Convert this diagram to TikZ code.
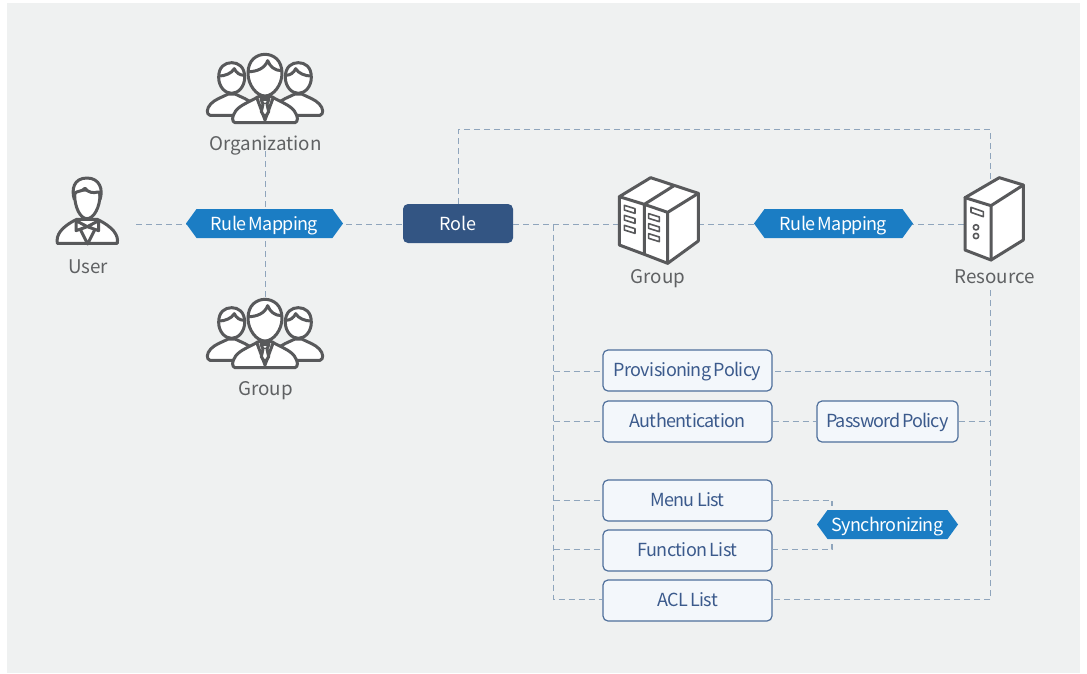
\documentclass[tikz,border=0pt]{standalone}
\usepackage{fontspec}
\setmainfont{Noto Sans CJK KR}
\newfontfamily\tightfont[LetterSpace=-3.6,WordSpace=0.7]{Noto Sans CJK KR}
\newfontfamily\tighterfont[LetterSpace=-5,WordSpace=0.6]{Noto Sans CJK KR}
\usetikzlibrary{shapes.symbols}
\definecolor{bgc}{HTML}{EFF1F1}
\definecolor{ico}{HTML}{58595B}
\definecolor{lab}{HTML}{5F6163}
\definecolor{dsh}{HTML}{8FA5BC}
\definecolor{hexc}{HTML}{1B7DC4}
\definecolor{rolec}{HTML}{335583}
\definecolor{boxf}{HTML}{F3F7FB}
\definecolor{boxd}{HTML}{4E6F9B}
\definecolor{boxt}{HTML}{3B5A8C}
\newcommand{\sidepersonpath}{%
  \path[ic] (60,226) .. controls (48,222) and (50,205) .. (62,192) .. controls (75,178) and (95,172) .. (115,162) -- (135,162) .. controls (155,172) and (175,178) .. (188,192) .. controls (200,205) and (202,222) .. (190,226) -- cycle;
  \path[ic] (86,112) .. controls (86,80) and (105,68) .. (125,68) .. controls (145,68) and (164,80) .. (164,112) .. controls (164,140) and (145,160) .. (125,160) .. controls (105,160) and (86,140) .. (86,112) -- cycle;
  \path[icl] (88,108) .. controls (105,108) and (125,100) .. (133,86) .. controls (138,98) and (150,106) .. (162,106);
}
\tikzset{
  conn/.style={draw=dsh,line width=1.3pt,dash pattern=on 6pt off 4pt},
  txtsize/.style={text height=13pt,text depth=1pt,inner sep=0pt},
  hexn/.style={shape=signal,signal to=east and west,signal pointer angle=108,fill=hexc,text=white,font=\tightfont\fontsize{18}{20}\selectfont,inner sep=0pt,text height=13pt,text depth=0pt,minimum height=29pt},
  listbox/.style={draw=boxd,fill=boxf,line width=1.2pt,rounded corners=5pt,text=boxt,font=\tightfont\fontsize{18}{20}\selectfont,txtsize,minimum height=41pt},
  rolebox/.style={fill=rolec,rounded corners=5pt,text=white,font=\fontsize{18}{20}\selectfont,inner sep=0pt,text height=13pt,text depth=0pt,minimum width=110pt,minimum height=39pt},
  lbl/.style={text=lab,font=\fontsize{18.8}{20}\selectfont,txtsize},
  iconarea/.style={inner sep=0pt,minimum width=#1},
  ic/.style={draw=ico,fill=white,line width=3pt,line join=round,line cap=round},
  icl/.style={draw=ico,line width=3pt,line join=round,line cap=round},
  ict/.style={draw=ico,fill=white,line width=1.6pt,line join=round},
  people/.pic={
    \sidepersonpath
    \begin{scope}[xshift=450,xscale=-1]\sidepersonpath\end{scope}
    \path[ic] (135,248) .. controls (125,245) and (125,230) .. (137,213) .. controls (150,195) and (180,185) .. (205,170) -- (245,170) .. controls (270,185) and (300,195) .. (313,213) .. controls (325,230) and (325,245) .. (315,248) -- cycle;
    \path[icl] (200,172) -- (225,240) -- (250,172);
    \path[ic] (213,178) -- (237,178) -- (231,192) -- (219,192) -- cycle;
    \path[ic] (219,192) -- (214,215) -- (225,232) -- (236,215) -- (231,192);
    \path[ic] (174,100) .. controls (174,60) and (200,43) .. (225,43) .. controls (250,43) and (276,60) .. (276,100) .. controls (276,135) and (250,168) .. (225,168) .. controls (200,168) and (174,135) .. (174,100) -- cycle;
    \path[icl] (176,95) .. controls (200,95) and (225,85) .. (233,62) .. controls (240,80) and (255,92) .. (274,92);
  },
  userpic/.pic={
    \path[ic] (52,220) .. controls (48,195) and (62,172) .. (110,148) -- (172,148) .. controls (220,172) and (236,195) .. (232,220) -- cycle;
    \path[icl] (118,172) -- (143,222) -- (168,172);
    \path[ic] (108,152) -- (142,170) -- (176,152) -- (176,182) -- (142,170) -- (108,182) -- cycle;
    \path[ic] (104,75) .. controls (104,110) and (120,146) .. (141,146) .. controls (162,146) and (180,110) .. (180,75) -- (180,60) -- (104,60) -- cycle;
    \path[ic] (103,88) .. controls (94,60) and (100,24) .. (141,24) .. controls (180,24) and (190,60) .. (180,88) .. controls (182,75) and (178,66) .. (174,66) .. controls (160,70) and (145,68) .. (135,55) .. controls (125,66) and (110,62) .. (105,70) .. controls (103,75) and (103,80) .. (103,88) -- cycle;
  },
  serverspic/.pic={
    \path[ic] (58,95) -- (152,38) -- (295,85) -- (295,228) -- (203,295) -- (133,268) -- (58,240) -- cycle;
    \path[icl] (58,95) -- (133,118) -- (203,142) -- (295,85) (203,142) -- (203,295) (133,118) -- (133,268) (133,118) -- (222,62);
    \foreach \k in {0,30,60}{
      \path[ict] (73,121+\k) -- (105,131+\k) -- (105,145+\k) -- (73,135+\k) -- cycle;
      \path[ict] (146,146+\k) -- (178,156+\k) -- (178,170+\k) -- (146,160+\k) -- cycle;
    }
  },
  resourcepic/.pic={
    \path[ic] (75,98) -- (178,38) -- (250,60) -- (250,225) -- (153,285) -- (75,255) -- cycle;
    \path[icl] (75,98) -- (153,122) -- (250,60) (153,122) -- (153,285);
    \path[ict] (93,127) -- (130,140) -- (130,155) -- (93,142) -- cycle;
    \path[ict] (108,187) circle (8) (108,213) circle (8);
  }
}
\begin{document}
\begin{tikzpicture}[x=1pt,y=-1pt]
\useasboundingbox (0,0) rectangle (1087,673);
\fill[bgc] (7,3) rectangle (1080,673);

% nodes
\node[iconarea=62pt,minimum height=70pt] (usericon) at (87,213) {};
\node[lbl] (userl) at (88,267) {User};
\node[iconarea=118pt,minimum height=72pt] (orgicon) at (265,90) {};
\node[lbl] (orgl) at (265.5,144) {Organization};
\node[iconarea=118pt,minimum height=72pt] (grpicon) at (265.5,333) {};
\node[lbl] (grpl) at (265.5,389) {Group};
\node[iconarea=80pt,minimum height=88pt] (srvicon) at (658,224) {};
\node[lbl] (srvl) at (658,277) {Group};
\node[iconarea=50pt,minimum height=84pt] (resicon) at (990,222) {};
\node[lbl] (resl) at (994.5,277) {Resource};

\node[rolebox] (role) at (458,223.5) {Role};
\node[listbox,minimum width=169pt] (prov) at (687.5,370.5) {Provisioning Policy};
\node[listbox,minimum width=169pt] (auth) at (687.5,421.5) {Authentication};
\node[listbox,minimum width=141pt,font=\tighterfont\fontsize{18}{20}\selectfont] (pass) at (887.5,421.5) {Password Policy};
\node[listbox,minimum width=169pt] (menu) at (687.5,500.5) {Menu List};
\node[listbox,minimum width=169pt] (func) at (687.5,550.5) {Function List};
\node[listbox,minimum width=169pt] (acl) at (687.5,600.5) {ACL List};

\coordinate (userE) at (136,224.5);
\coordinate (roleW) at (403,224.5);
\coordinate (roleE) at (513,224.5);
\coordinate (srvW) at (618,224.5);
\coordinate (srvE) at (698,224.5);
\coordinate (resw) at (965,224.5);
\coordinate (resn) at (990.5,180);
\coordinate (busT) at (553.5,224.5);
\coordinate (busB) at (553.5,599.5);
\coordinate (resB) at (990.5,599.5);
\coordinate (resS) at (990.5,290);
\coordinate (topL) at (458.5,129.5);
\coordinate (topR) at (990.5,129.5);
\coordinate (syncT) at (832,505.5);
\coordinate (syncB) at (832,543);
\coordinate (provW) at (553.5,371.5);
\coordinate (provE) at (775,371.5);
\coordinate (provR) at (990.5,371.5);
\coordinate (authW) at (553.5,421.5);
\coordinate (menuW) at (553.5,500.5);
\coordinate (funcW) at (553.5,549.5);
\coordinate (funcE) at (772,549.5);
\coordinate (passR) at (990.5,421.5);
\coordinate (menuC) at (832,500.5);
\coordinate (funcC) at (832,549.5);

% connectors
\draw[conn] (userE) -- (role.west |- userE);
\draw[conn] (orgl.south) -- (grpicon.north);
\draw[conn] (role.east |- roleE) -- (srvicon.west |- srvW);
\draw[conn] (srvicon.east |- srvE) -- (resw);
\draw[conn] (role.north -| topL) -- (topL) -- (topR) -- (resn);
\draw[conn] (busT) -- (busB) -- (acl.west |- busB);
\draw[conn] (provW) -- (prov.west |- provW);
\draw[conn] (authW) -- (auth.west);
\draw[conn] (menuW) -- (menu.west);
\draw[conn] (funcW) -- (func.west |- funcW);
\draw[conn] (resS) -- (resB) -- (acl.east |- resB);
\draw[conn] (provE) -- (provR);
\draw[conn] (auth.east) -- (pass.west);
\draw[conn] (pass.east) -- (passR);
\draw[conn] (menu.east) -- (menuC) -- (syncT);
\draw[conn] (funcE) -- (funcC) -- (syncB);

% hexes
\node[hexn,minimum width=157pt] (rm1) at (264.5,223.5) {Rule Mapping};
\node[hexn,minimum width=159pt] (rm2) at (833.5,223.5) {Rule Mapping};
\node[hexn,minimum width=141pt] (sync) at (887.5,524.5) {Synchronizing};

% icons
\pic[scale=1/3] at (190,40) {people};
\pic[scale=1/3] at (190,285) {people};
\pic[scale=1/3] at (40,170) {userpic};
\pic[scale=1/3] at (600,165) {serverspic};
\pic[scale=1/3] at (940,165) {resourcepic};
\end{tikzpicture}
\end{document}
